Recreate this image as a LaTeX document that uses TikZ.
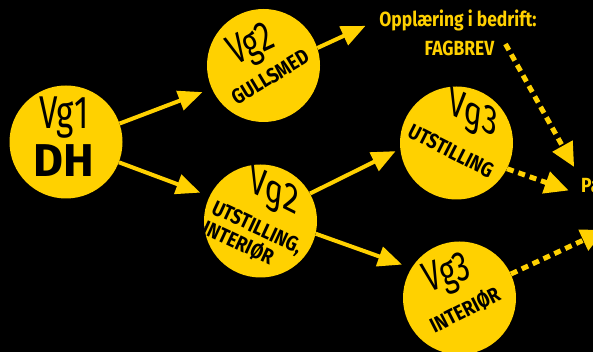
\documentclass[tikz,border=0pt]{standalone}
\usepackage[rgb]{xcolor}
\usepackage{fontspec}
\setmainfont{Fira Sans}[FakeStretch=0.72]
\newfontfamily\labelfont{Fira Sans}[FakeStretch=0.85]
\newfontfamily\dhfont{Fira Sans}
\usepackage{tikz}
\usetikzlibrary{arrows.meta}

\definecolor{gold}{RGB}{255,209,0}

\tikzset{
  course/.style={circle, fill=gold, minimum size=113pt, inner sep=0pt},
  vgtext/.style={text=black, inner sep=0pt, font=\fontsize{42}{42}\selectfont},
  subtext/.style={text=black, inner sep=0pt, align=left, font=\labelfont\bfseries\fontsize{21}{21}\selectfont},
  goaltext/.style={text=gold, inner sep=1pt, font=\labelfont\bfseries\fontsize{20.5}{20}\selectfont},
  solidarrow/.style={gold, line width=4pt, -{Triangle[length=24pt,width=20pt]}},
  dotarrow/.style={gold, line width=5pt, dash pattern=on 7pt off 5pt, -{Triangle[length=24pt,width=22pt]}},
}

\begin{document}
\begin{tikzpicture}[x=1pt, y=1pt]

\fill[black] (0,0) rectangle (593,352);
\useasboundingbox (0,0) rectangle (593,352);


% Vg1 DH
\path
(66,210) node[course] (vgone) {}
(64,234) node[vgtext, font=\fontsize{46}{46}\selectfont] (vgonetitle) {Vg1}
(64,191) node[vgtext, font=\dhfont\bfseries\fontsize{46}{46}\selectfont] (vgonedh) {DH};


% Vg2 gullsmed
\path
(263.5,286.5) node[course] (vgtwog) {}
(252,305) node[vgtext, rotate=25] (vgtwogtitle) {Vg2}
(270,275) node[subtext, rotate=31] (vgtwogname) {GULLSMED};


% Vg2 utstilling, interior
\path
(260.5,131) node[course] (vgtwou) {}
(252,114) node[subtext, rotate=-25] (vgtwouname) {UTSTILLING,\\INTERIØR};

\begin{scope}[shift={(274,158)}, yslant=-0.5]
\node[vgtext, transform shape, font=\itshape\fontsize{42}{42}\selectfont] (vgtwoutitle) {Vg2};
\end{scope}


% Vg3 utstilling
\path
(456.5,209) node[course] (vgthreeu) {}
(451,201) node[subtext, rotate=-27] (vgthreeuname) {UTSTILLING};

\begin{scope}[shift={(473,236)}, yslant=-0.5]
\node[vgtext, transform shape, font=\itshape\fontsize{42}{42}\selectfont] (vgthreeutitle) {Vg3};
\end{scope}


% Vg3 interior
\path
(459.5,54) node[course] (vgthreei) {}
(448,76) node[vgtext, rotate=18] (vgthreeititle) {Vg3}
(465,42) node[subtext, rotate=27] (vgthreeiname) {INTERIØR};


% Fagbrev and the goal on the right
\path
(458,332) node[goaltext] (fagone) {Opplæring i bedrift:}
(459.5,304) node[goaltext] (fag) {FAGBREV}
(580,166) node[goaltext, anchor=west] (pa) {Pa};

\coordinate (paend) at (605,122);


% Solid arrows
\draw[solidarrow, shorten >=10pt] (vgone.19) -- (vgtwog.204);
\draw[solidarrow, shorten >=10pt] (vgone.339) -- (vgtwou.154);
\draw[solidarrow, shorten >=5pt] (vgtwou.29) -- (vgthreeu.186);
\draw[solidarrow, shorten >=10pt] (vgtwou.347) -- (vgthreei.148);
\draw[solidarrow, shorten >=14pt] (vgtwog.18) -- (fagone.west);


% Dashed arrows
\draw[dotarrow, shorten >=12pt] ([shift={(10pt,4pt)}]fag.east) -- (pa.north west);
\draw[dotarrow, shorten >=12pt] (vgthreeu.333) -- (pa.south west);
\draw[dotarrow] (vgthreei.25) -- (paend);


\end{tikzpicture}
\end{document}
